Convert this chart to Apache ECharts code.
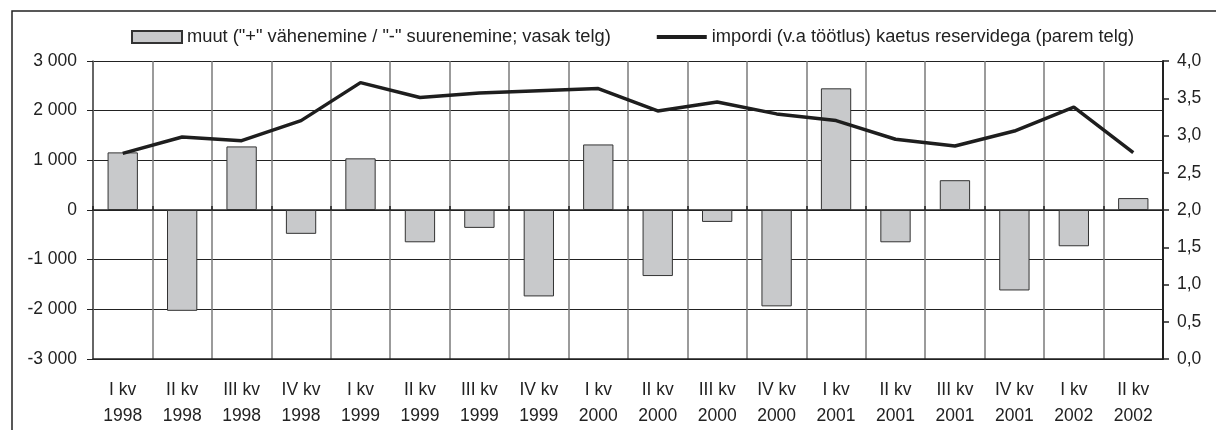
<!DOCTYPE html>
<html>
<head>
<meta charset="utf-8">
<script src="https://cdn.jsdelivr.net/npm/echarts@6/dist/echarts.min.js"></script>
<style>
  html, body { margin: 0; padding: 0; background: #fff; }
  #chart { width: 1216px; height: 430px; }
</style>
</head>
<body>
<div id="chart"></div>
<script>
// kvartalid
var quarters = ['I kv', 'II kv', 'III kv', 'IV kv', 'I kv', 'II kv', 'III kv', 'IV kv', 'I kv',
                'II kv', 'III kv', 'IV kv', 'I kv', 'II kv', 'III kv', 'IV kv', 'I kv', 'II kv'];
var years = ['1998', '1998', '1998', '1998', '1999', '1999', '1999', '1999', '2000',
             '2000', '2000', '2000', '2001', '2001', '2001', '2001', '2002', '2002'];

// muut, vasak telg
var changes = [1160, -2030, 1280, -480, 1040, -650, -360, -1740, 1320,
               -1330, -240, -1940, 2450, -650, 600, -1620, -730, 240];
// impordi kaetus reservidega, parem telg
var coverage = [2.76, 2.98, 2.93, 3.20, 3.71, 3.51, 3.57, 3.60, 3.63,
                3.33, 3.45, 3.29, 3.20, 2.95, 2.86, 3.06, 3.38, 2.77];

var seriesNames = ['muut ("+" vähenemine / "-" suurenemine; vasak telg)',
                   'impordi (v.a töötlus) kaetus reservidega (parem telg)'];

var categories = quarters.map(function (q, i) { return q + '\n' + years[i]; });

var font = 'Liberation Sans, Arial, sans-serif';
var textColor = '#222';
var axisFont = 17.5;

var chart = echarts.init(document.getElementById('chart'), null, { renderer: 'canvas' });

chart.setOption({
  animation: false,
  textStyle: { fontFamily: font },
  graphic: [{
    type: 'rect',
    shape: { x: 12, y: 11, width: 1300, height: 500 },
    style: { fill: 'none', stroke: '#222', lineWidth: 1.5 },
    silent: true
  }],
  legend: {
    top: 28,
    left: 131,
    padding: 0,
    itemWidth: 50,
    itemHeight: 12,
    itemGap: 46,
    selectedMode: false,
    textStyle: { fontSize: 18.3, color: textColor, fontFamily: font },
    data: [
      { name: seriesNames[0], icon: 'rect' },
      { name: seriesNames[1], icon: 'path://M0,0 H50 V4 H0 Z', itemStyle: { color: '#1e1e1e', borderWidth: 0 } }
    ]
  },
  grid: { left: 93, right: 53, top: 61, bottom: 71 },
  xAxis: [{
    type: 'category',
    data: categories,
    boundaryGap: true,
    axisLine: { onZero: false, lineStyle: { color: '#222', width: 1.5 } },
    axisTick: { show: false },
    splitLine: { show: true, lineStyle: { color: '#7a7a7a', width: 1.5 } },
    axisLabel: {
      interval: 0, margin: 18, fontSize: axisFont, lineHeight: 26,
      color: textColor, fontFamily: font
    }
  }, {
    type: 'category',
    data: categories,
    boundaryGap: true,
    axisLine: { onZero: true, onZeroAxisIndex: 0, lineStyle: { color: '#222', width: 1.5 } },
    axisTick: { show: true, length: 4, lineStyle: { color: '#222', width: 1.5 } },
    axisLabel: { show: false },
    splitLine: { show: false }
  }],
  yAxis: [{
    type: 'value',
    min: -3000, max: 3000, interval: 1000,
    axisLine: { show: true, lineStyle: { color: '#555', width: 1.5 } },
    axisTick: { show: true, length: 6, lineStyle: { color: '#222' } },
    splitLine: { show: true, lineStyle: { color: '#222', width: 1.2 } },
    axisLabel: {
      margin: 16, fontSize: axisFont, color: textColor, fontFamily: font,
      formatter: function (v) {
        var s = String(Math.abs(v)).replace(/\B(?=(\d{3})+(?!\d))/g, ' ');
        return (v < 0 ? '-' : '') + s;
      }
    }
  }, {
    type: 'value',
    position: 'right',
    min: 0, max: 4, interval: 0.5,
    axisLine: { show: true, lineStyle: { color: '#222', width: 2 } },
    axisTick: { show: true, length: 6, lineStyle: { color: '#222', width: 1.5 } },
    splitLine: { show: false },
    axisLabel: {
      margin: 14, fontSize: axisFont, color: textColor, fontFamily: font,
      formatter: function (v) { return v.toFixed(1).replace('.', ','); }
    }
  }],
  series: [{
    name: seriesNames[0],
    type: 'bar',
    yAxisIndex: 0,
    barWidth: '51%',
    data: changes,
    itemStyle: { color: '#c8c9cb', borderColor: '#333', borderWidth: 1 }
  }, {
    name: seriesNames[1],
    type: 'line',
    yAxisIndex: 1,
    data: coverage,
    symbol: 'none',
    lineStyle: { color: '#1e1e1e', width: 3.5 },
    itemStyle: { color: '#1e1e1e' }
  }]
});
</script>
</body>
</html>
